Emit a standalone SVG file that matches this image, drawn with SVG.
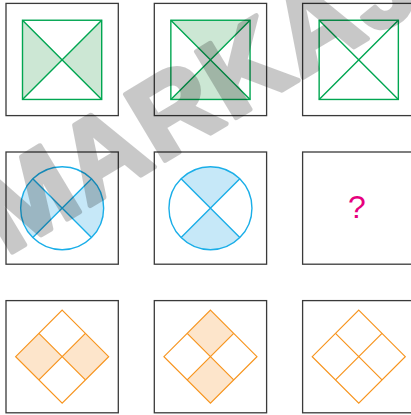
<svg xmlns="http://www.w3.org/2000/svg" width="411" height="415" viewBox="0 0 411 415">
<style>
.box{fill:#fff;stroke:#3a3a3a;stroke-width:1.3}
.g{stroke:#00a651;stroke-width:1.4;fill:none}
.gf{fill:#cce7d4;stroke:none}
.b{stroke:#1aaee8;stroke-width:1.4;fill:none}
.bf{fill:#c6e8f8;stroke:none}
.o{stroke:#f7941d;stroke-width:1.2;fill:none;stroke-linejoin:miter}
.of{fill:#fde5cb;stroke:none}
.q{font-family:"Liberation Sans",Arial,sans-serif;font-size:32px;fill:#e6007e;text-anchor:middle}
.wm{font-family:"Liberation Sans",Arial,sans-serif;font-weight:bold;font-size:112px;letter-spacing:2px;fill:#000;stroke:#000;stroke-width:5;stroke-linejoin:round}
</style>
<rect width="411" height="415" fill="#fff"/>
<g id="sq1">
<rect class="box" x="6" y="3.4" width="112.3" height="112.2"/>
<polygon class="gf" points="22.5,20.25 62.1,59.85 22.5,99.45"/>
<polygon class="gf" points="101.7,20.25 62.1,59.85 101.7,99.45"/>
<rect class="g" x="22.5" y="20.25" width="79.2" height="79.2"/>
<path class="g" d="M22.5 20.25L101.7 99.45M101.7 20.25L22.5 99.45"/>
</g>
<g id="sq2">
<rect class="box" x="154.3" y="3.4" width="112.3" height="112.2"/>
<polygon class="gf" points="170.85,20.25 250.05,20.25 210.45,59.85"/>
<polygon class="gf" points="170.85,99.45 250.05,99.45 210.45,59.85"/>
<rect class="g" x="170.85" y="20.25" width="79.2" height="79.2"/>
<path class="g" d="M170.85 20.25L250.05 99.45M250.05 20.25L170.85 99.45"/>
</g>
<g id="sq3">
<rect class="box" x="302.6" y="3.4" width="112.3" height="112.2"/>
<rect class="g" x="319.15" y="20.25" width="79.2" height="79.2"/>
<path class="g" d="M319.15 20.25L398.35 99.45M398.35 20.25L319.15 99.45"/>
</g>
<g id="ci1">
<rect class="box" x="6" y="152" width="112.3" height="112.2"/>
<path class="bf" d="M62.15 208.2L32.8 178.85A41.5 41.5 0 0 0 32.8 237.55Z"/>
<path class="bf" d="M62.15 208.2L91.5 178.85A41.5 41.5 0 0 1 91.5 237.55Z"/>
<circle class="b" cx="62.15" cy="208.2" r="41.5"/>
<path class="b" d="M32.8 178.85L91.5 237.55M91.5 178.85L32.8 237.55"/>
</g>
<g id="ci2">
<rect class="box" x="154.3" y="152" width="112.3" height="112.2"/>
<path class="bf" d="M210.45 208.2L181.1 178.85A41.5 41.5 0 0 1 239.8 178.85Z"/>
<path class="bf" d="M210.45 208.2L181.1 237.55A41.5 41.5 0 0 0 239.8 237.55Z"/>
<circle class="b" cx="210.45" cy="208.2" r="41.5"/>
<path class="b" d="M181.1 178.85L239.8 237.55M239.8 178.85L181.1 237.55"/>
</g>
<g id="ci3">
<rect class="box" x="302.6" y="152" width="112.3" height="112.2"/>
<text class="q" x="357" y="217.5">?</text>
</g>
<g id="di1">
<rect class="box" x="6" y="300.6" width="112.3" height="112.2"/>
<polygon class="of" points="15.65,356.7 38.9,333.45 62.15,356.7 38.9,379.95"/>
<polygon class="of" points="62.15,356.7 85.4,333.45 108.65,356.7 85.4,379.95"/>
<polygon class="o" points="62.15,310.2 108.65,356.7 62.15,403.2 15.65,356.7"/>
<path class="o" d="M38.9 333.45L85.4 379.95M85.4 333.45L38.9 379.95"/>
</g>
<g id="di2">
<rect class="box" x="154.3" y="300.6" width="112.3" height="112.2"/>
<polygon class="of" points="210.45,310.2 233.7,333.45 210.45,356.7 187.2,333.45"/>
<polygon class="of" points="210.45,356.7 233.7,379.95 210.45,403.2 187.2,379.95"/>
<polygon class="o" points="210.45,310.2 256.95,356.7 210.45,403.2 163.95,356.7"/>
<path class="o" d="M187.2 333.45L233.7 379.95M233.7 333.45L187.2 379.95"/>
</g>
<g id="di3">
<rect class="box" x="302.6" y="300.6" width="112.3" height="112.2"/>
<polygon class="o" points="358.75,310.2 405.25,356.7 358.75,403.2 312.25,356.7"/>
<path class="o" d="M335.5 333.45L382 379.95M382 333.45L335.5 379.95"/>
</g>
<g id="watermark" opacity="0.21">
<text class="wm" x="6" y="256" transform="rotate(-31 6 256)">MARKAJ</text>
</g>
</svg>
